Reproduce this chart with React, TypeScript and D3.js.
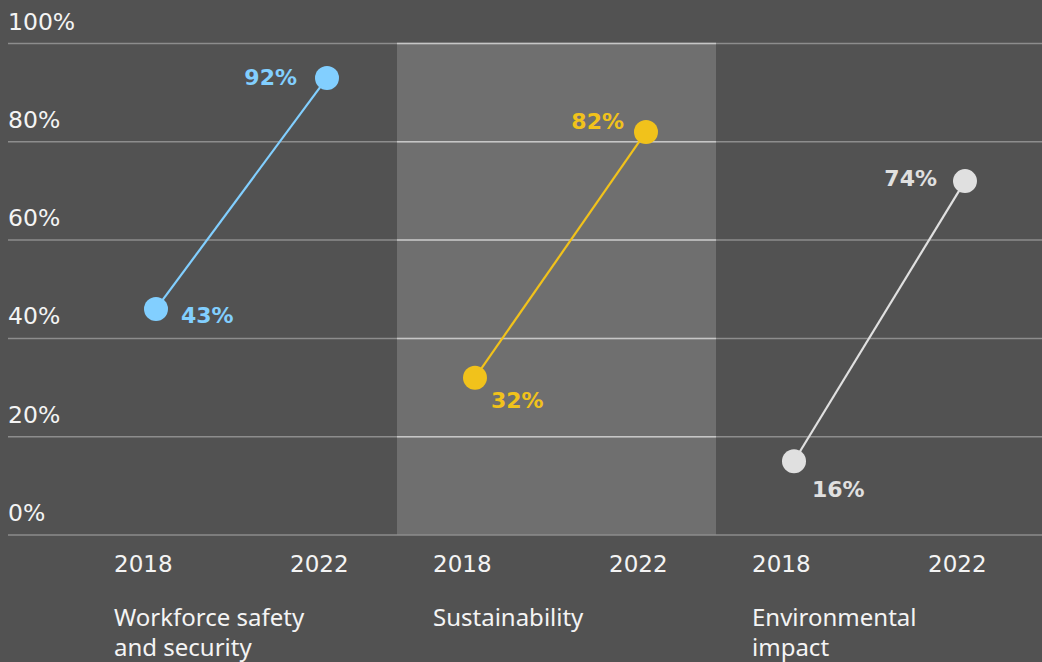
import React from "react";
import * as d3 from "d3";

const categories = ["Workforce safety and security", "Sustainability", "Environmental impact"];
const categoryLines = [["Workforce safety", "and security"], ["Sustainability"], ["Environmental", "impact"]];
const years = ["2018", "2022"];
const values2018 = [46, 32, 15];
const values2022 = [93, 82, 72];
const labels2018 = ["43%", "32%", "16%"];
const labels2022 = ["92%", "82%", "74%"];
const yTicks = [0, 20, 40, 60, 80, 100];
const seriesColors = ["#82cfff", "#f1c21b", "#e0e0e0"];

const W = 1042;
const H = 662;
const FONT = "'DejaVu Sans', sans-serif";
const FONT2 = "'Noto Sans', sans-serif";

// label offsets relative to dots (layout only)
const offs2018 = [[25, 14], [16, 30], [18, 36]];
const offs2022 = [[-30, 7], [-22, -3], [-28, 5]];

export default function App() {
  const y = d3.scaleLinear().domain([0, 100]).range([535, 43.5]);
  const band = d3.scaleBand<string>().domain(categories).range([78, 1035]).paddingInner(0).paddingOuter(0);
  const inner = d3.scalePoint<string>().domain(years).range([78, 249]);
  const yearPos = d3.scalePoint<string>().domain(years).range([36, 212]);

  return (
    <svg width={W} height={H} style={{ position: "absolute", left: 0, top: 0, display: "block" }} fontFamily={FONT}>
      <rect x={0} y={0} width={W} height={H} fill="#525252" />
      {/* highlighted middle panel */}
      <rect x={band(categories[1])!} y={y(100)} width={band.bandwidth()} height={y(0) - y(100)} fill="#6f6f6f" />
      {/* grid lines */}
      {yTicks.map((t) => (
        <g key={t}>
          <line x1={8} x2={W} y1={y(t)} y2={y(t)} stroke="#8d8d8d" strokeWidth={1.5} />
          {t > 0 && (
            <line x1={band(categories[1])!} x2={band(categories[1])! + band.bandwidth()} y1={y(t)} y2={y(t)} stroke="#c6c6c6" strokeWidth={1.5} />
          )}
          <text x={8} y={y(t) - 14} fill="#f4f4f4" fontSize={23.5}>{`${t}%`}</text>
        </g>
      ))}
      {categories.map((c, i) => {
        const bx = band(c)!;
        const x0 = bx + inner("2018")!;
        const x1 = bx + inner("2022")!;
        const y0 = y(values2018[i]);
        const y1 = y(values2022[i]);
        const col = seriesColors[i];
        return (
          <g key={c}>
            <line x1={x0} y1={y0} x2={x1} y2={y1} stroke={col} strokeWidth={2.2} />
            <circle cx={x0} cy={y0} r={12} fill={col} />
            <circle cx={x1} cy={y1} r={12} fill={col} />
            <text x={x0 + offs2018[i][0]} y={y0 + offs2018[i][1]} fill={col} fontSize={22} fontWeight={700} textAnchor="start">{labels2018[i]}</text>
            <text x={x1 + offs2022[i][0]} y={y1 + offs2022[i][1]} fill={col} fontSize={22} fontWeight={700} textAnchor="end">{labels2022[i]}</text>
            {years.map((yr) => (
              <text key={yr} x={bx + yearPos(yr)!} y={572} fill="#f4f4f4" fontSize={23}>{yr}</text>
            ))}
            {categoryLines[i].map((ln, j) => (
              <text key={j} x={bx + 36} y={625.5 + j * 30} fill="#f4f4f4" fontSize={24} fontFamily={FONT2}>{ln}</text>
            ))}
          </g>
        );
      })}
    </svg>
  );
}
